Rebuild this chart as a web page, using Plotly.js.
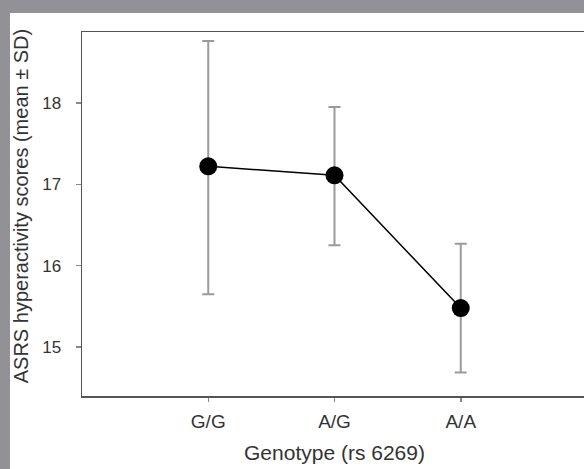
<!DOCTYPE html>
<html>
<head>
<meta charset="utf-8">
<script src="https://cdn.plot.ly/plotly-3.0.1.min.js"></script>
<style>
  html, body { margin: 0; padding: 0; width: 584px; height: 469px; overflow: hidden; background: #929296; }
  #chart { position: absolute; left: 10px; top: 13px; width: 590px; height: 456px; }
</style>
</head>
<body>
<div id="chart"></div>
<script>
// Data
const genotypes = ["G/G", "A/G", "A/A"];
const meanScores = [17.22, 17.11, 15.48];
const sdUpper = [1.54, 0.84, 0.79];   // distance from mean to top of error bar
const sdLower = [1.57, 0.86, 0.79];   // distance from mean to bottom of error bar
const yTicks = [15, 16, 17, 18];

const font = "Liberation Sans, Arial, sans-serif";

const trace = {
  x: genotypes,
  y: meanScores,
  type: "scatter",
  mode: "lines+markers",
  line: { color: "#000000", width: 1.5 },
  marker: { color: "#000000", size: 18 },
  error_y: {
    type: "data",
    symmetric: false,
    array: sdUpper,
    arrayminus: sdLower,
    color: "#9a9a9a",
    thickness: 2,
    width: 6
  },
  hoverinfo: "skip"
};

const layout = {
  width: 590,
  height: 456,
  margin: { l: 72, r: 13, t: 19, b: 73 },
  paper_bgcolor: "#ffffff",
  plot_bgcolor: "#ffffff",
  showlegend: false,
  font: { family: font, color: "#333333" },
  xaxis: {
    type: "category",
    range: [-1, 3],
    showgrid: false,
    zeroline: false,
    showline: true,
    linecolor: "#555555",
    linewidth: 1.5,
    mirror: true,
    ticks: "outside",
    ticklen: 4,
    tickcolor: "#888888",
    tickwidth: 1.5,
    tickfont: { family: font, size: 19, color: "#333333" },
    ticklabelstandoff: 4,
    title: { text: "Genotype (rs 6269)", font: { family: font, size: 21, color: "#333333" }, standoff: 14 }
  },
  yaxis: {
    range: [14.40, 18.87],
    tickvals: yTicks,
    ticktext: yTicks.map(String),
    showgrid: false,
    zeroline: false,
    showline: true,
    linecolor: "#555555",
    linewidth: 1.5,
    mirror: true,
    ticks: "outside",
    ticklen: 5,
    tickcolor: "#888888",
    tickwidth: 1.5,
    tickfont: { family: font, size: 17, color: "#333333" },
    ticklabelstandoff: 11
  },
  annotations: [{
    text: "ASRS hyperactivity scores (mean ± SD)",
    textangle: -90,
    xref: "paper", yref: "paper",
    x: -0.121, y: 0.521,
    xanchor: "center", yanchor: "middle",
    showarrow: false,
    font: { family: font, size: 20, color: "#333333" }
  }]
};

Plotly.newPlot("chart", [trace], layout, { displayModeBar: false, staticPlot: true });
</script>
</body>
</html>
